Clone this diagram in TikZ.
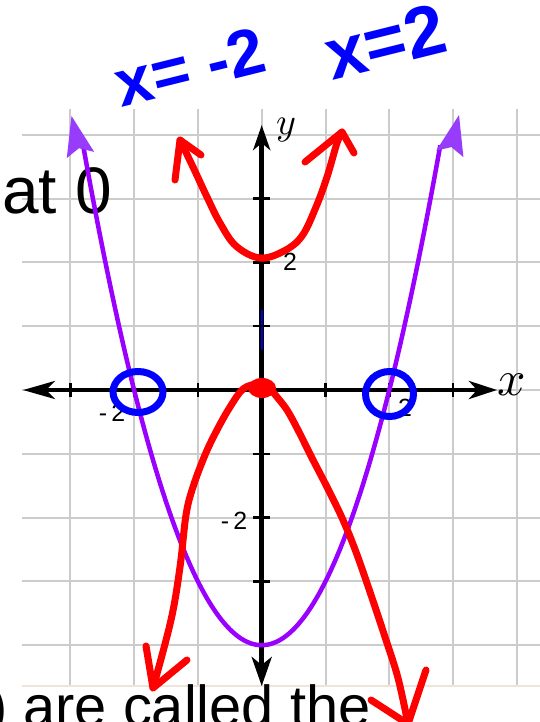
\documentclass[tikz,border=0pt]{standalone}
\usepackage{fontspec}
\setmainfont{Liberation Sans}
\usetikzlibrary{arrows.meta}
\definecolor{gridgray}{RGB}{204,204,204}
\definecolor{faintline}{RGB}{238,228,218}
\definecolor{plum}{RGB}{153,0,255}
\definecolor{plumhead}{RGB}{150,60,250}
\definecolor{inkred}{RGB}{255,0,0}
\definecolor{inkblue}{RGB}{0,0,255}
\begin{document}
\begin{tikzpicture}[x=1bp,y=-1bp,
  gridline/.style={draw=gridgray, line width=2bp},
  axisline/.style={draw=black, line width=4.5bp},
  axistick/.style={draw=black, line width=2.5bp},
  purpleline/.style={draw=plum, line width=4.5bp},
  purplehead/.style={fill=plumhead},
  redink/.style={draw=inkred, line width=7bp, line cap=round, line join=round},
  blueink/.style={draw=inkblue, line width=7bp},
  bluewrite/.style={text=inkblue, rotate=14, inner sep=0, font=\bfseries\fontsize{66}{66}\selectfont},
  slidetext/.style={anchor=base west, inner sep=0},
  ticklabel/.style={inner sep=0, font=\fontsize{25}{25}\selectfont},
  axislabel/.style={inner sep=0}
]
\useasboundingbox (0,0) rectangle (540,722);
\fill[white] (0,0) rectangle (540,722);

% grid
\foreach \k in {-3,...,4}
  \draw[gridline] ({261.7+63.8*\k},109) -- ({261.7+63.8*\k},686);
\foreach \k in {-4,...,4}
  \draw[gridline] (21.6,{390-63.8*\k}) -- (540,{390-63.8*\k});
\draw[draw=faintline, line width=1.5bp] (21.6,686) -- (540,686);

% slide text
\node[slidetext, font=\fontsize{66}{66}\selectfont] (at0) at (2,213) {at 0};
\node[slidetext, font=\fontsize{58}{58}\selectfont] (called) at (-12,726) {) are called the};

% axes
\draw[axisline, {Stealth[length=32bp,width=18bp,inset=9bp]}-{Stealth[length=28bp,width=18bp,inset=8bp]}] (23,390) -- (497,390);
\draw[axisline, {Stealth[length=25bp,width=17bp,inset=7bp]}-{Stealth[length=29bp,width=20bp,inset=8bp]}] (261.7,125) -- (261.7,686);
\draw[draw=inkblue!80!black, line width=2bp] (261.7,310) -- (261.7,350);

% ticks
\foreach \k in {-3,-2,-1,1,2,3}
  \draw[axistick] ({261.7+63.8*\k},383) -- ({261.7+63.8*\k},397);
\foreach \k in {-4,-3,-2,-1,1,2,3}
  \draw[axistick] (253,{390-63.8*\k}) -- (270,{390-63.8*\k});

% tick labels
\node[ticklabel] (t2y) at (290,262) {2};
\node[ticklabel] (tm2y) at (234,521) {-\,2};
\node[ticklabel] (tm2x) at (112,413) {-\,2};
\node[ticklabel] (t2x) at (405,408) {2};
\node[axislabel] (xl) at (512,385) {\scalebox{5}{$x$}};
\node[axislabel] (yl) at (286,130) {\scalebox{3.8}{$y$}};

% purple parabola y = x^2 - 4
\begin{scope}[shift={(261.7,390)}, x=63.8bp, y=63.8bp]
  \draw[purpleline] plot[domain=-2.8:2.8, samples=90, smooth] (\x,{\x*\x-4});
\end{scope}
\fill[purplehead] (71.5,116) -- (94.2,151.9) -- (78.9,148.2) -- (66.8,158.1) -- cycle;
\fill[purplehead] (459,115) -- (463.4,157.1) -- (451.4,147.1) -- (436.2,150.7) -- cycle;

% blue circles
\draw[blueink] (138,392) ellipse [x radius=25bp, y radius=20.5bp];
\draw[blueink] (389.5,394) ellipse [x radius=24bp, y radius=22.5bp];

% blue handwriting
\node[bluewrite] (eqa) at (190,67) {x= -2};
\node[bluewrite, font=\bfseries\fontsize{72}{72}\selectfont] (eqb) at (385,41) {x=2};

% red: upper parabola
\draw[redink] plot[smooth, tension=0.6] coordinates {(180,140) (193,167) (207,197) (220,223) (236,246) (260,258) (284,251) (302,236) (316,207) (327,177) (337,143) (342,132)};
\draw[redink] (175,180) -- (180,140) -- (201,155);
\draw[redink] (305,162) -- (342,132) -- (354,153);

% red: lower curve
\fill[inkred] (262,388) ellipse [x radius=14bp, y radius=10bp];
\draw[redink] plot[smooth, tension=0.6] coordinates {(256,384) (243,389) (230,407) (217,430) (205,455) (193,487) (186,515) (180,567) (171,620) (153,688)};
\draw[redink] (146,646) -- (153,688) -- (187,660);
\draw[redink] plot[smooth, tension=0.6] coordinates {(268,386) (277,397) (287,410) (298,430) (312,458) (328,489) (343,520) (356,552) (370,592) (385,637) (398,678) (408,724)};
\draw[redink] (371,700) -- (408,724) -- (426,670);
\end{tikzpicture}
\end{document}
